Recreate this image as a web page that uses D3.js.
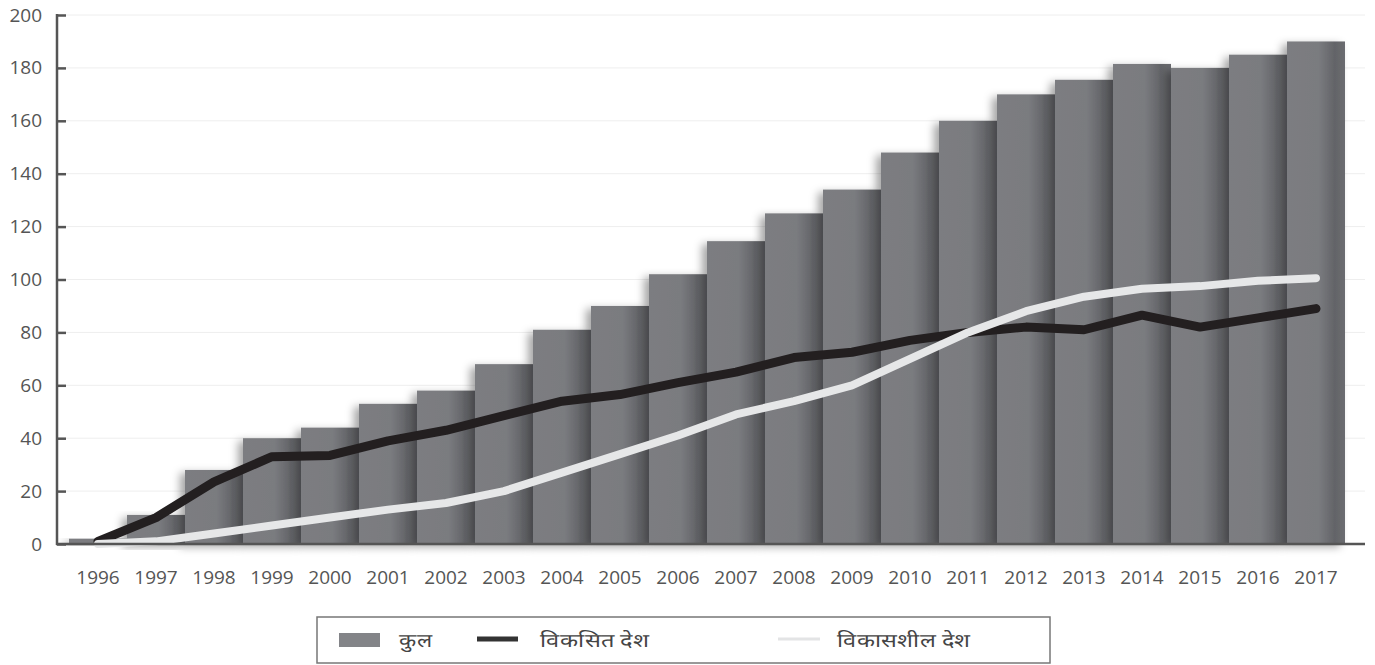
<!DOCTYPE html>
<html>
<head>
<meta charset="utf-8">
<script src="https://cdn.jsdelivr.net/npm/d3@7"></script>
<style>
  body { margin: 0; background: #fff; }
  text { font-family: "Open Sans", sans-serif; }
</style>
</head>
<body>
<svg id="chart"></svg>
<script>
const years = ["1996","1997","1998","1999","2000","2001","2002","2003","2004","2005","2006",
               "2007","2008","2009","2010","2011","2012","2013","2014","2015","2016","2017"];
const total      = [2, 11, 28, 40, 44, 53, 58, 68, 81, 90, 102, 114.5, 125, 134, 148, 160, 170, 175.5, 181.5, 180, 185, 190];
const developed  = [1, 10, 23.5, 33, 33.5, 39, 43, 48.5, 54, 56.5, 61, 65, 70.5, 72.5, 77, 80, 82, 81, 86.5, 82, 85.5, 89];
const developing = [0, 1, 4, 7, 10, 13, 15.5, 20, 27, 34, 41, 49, 54, 60, 70, 80, 88, 93.5, 96.5, 97.5, 99.5, 100.5];
const yTicks = [0, 20, 40, 60, 80, 100, 120, 140, 160, 180, 200];
const legendLabels = ["कुल", "विकसित देश", "विकासशील देश"];

const W = 1375, H = 665;
const svg = d3.select("#chart").attr("width", W).attr("height", H);

const x = d3.scaleBand().domain(years).range([69, 1345]).padding(0);
const y = d3.scaleLinear().domain([0, 200]).range([544, 15]);

const defs = svg.append("defs");
const grad = defs.append("linearGradient").attr("id", "barGrad")
    .attr("x1", "0%").attr("x2", "100%").attr("y1", "0%").attr("y2", "0%");
[["0%", "#7c7d81"], ["55%", "#7a7b7f"], ["82%", "#636468"], ["100%", "#6b6c70"]].forEach(s => {
    grad.append("stop").attr("offset", s[0]).attr("stop-color", s[1]);
});
const shadow = defs.append("filter").attr("id", "shadow")
    .attr("x", "-30%").attr("y", "-10%").attr("width", "150%").attr("height", "130%");
shadow.append("feDropShadow").attr("dx", -5).attr("dy", 3).attr("stdDeviation", 4)
    .attr("flood-color", "#000").attr("flood-opacity", 0.35);

// gridlines
svg.append("g").selectAll("line").data(yTicks.slice(1)).join("line")
    .attr("x1", 57).attr("x2", 1365)
    .attr("y1", d => y(d)).attr("y2", d => y(d))
    .attr("stroke", "#eeeeee").attr("stroke-width", 1);

// bars
svg.append("g").selectAll("rect").data(years).join("rect")
    .attr("x", d => x(d))
    .attr("y", (d, i) => y(total[i]))
    .attr("width", x.bandwidth())
    .attr("height", (d, i) => y(0) - y(total[i]))
    .attr("fill", "url(#barGrad)")
    .attr("filter", "url(#shadow)");

// lines
const line = d3.line()
    .x((d, i) => x(years[i]) + x.bandwidth() / 2)
    .y(d => y(d));

svg.append("path").datum(developed)
    .attr("d", line).attr("fill", "none")
    .attr("stroke", "#231f20").attr("stroke-width", 9)
    .attr("stroke-linejoin", "round").attr("stroke-linecap", "round");

svg.append("path").datum(developing)
    .attr("d", line).attr("fill", "none")
    .attr("stroke", "#e6e7e8").attr("stroke-width", 8)
    .attr("stroke-linejoin", "round").attr("stroke-linecap", "round");

// y axis
const yAxis = svg.append("g").attr("transform", "translate(57,0)")
    .call(d3.axisRight(y).tickValues(yTicks).tickSize(9).tickFormat(d3.format("d")));
yAxis.select(".domain").remove();
yAxis.selectAll(".tick line").attr("stroke", "#555").attr("stroke-width", 2.5);
yAxis.selectAll(".tick text")
    .attr("x", -15).attr("text-anchor", "end")
    .attr("fill", "#555").attr("font-size", 19).attr("font-family", "Open Sans");
svg.append("line").attr("x1", 57).attr("x2", 57).attr("y1", 14).attr("y2", 545)
    .attr("stroke", "#555").attr("stroke-width", 2.5);

// x axis
svg.append("line").attr("x1", 56).attr("x2", 1365).attr("y1", 544).attr("y2", 544)
    .attr("stroke", "#555").attr("stroke-width", 2.5);
const xAxis = svg.append("g").attr("transform", "translate(0,544)")
    .call(d3.axisBottom(x).tickSize(0).tickPadding(27));
xAxis.select(".domain").remove();
xAxis.selectAll(".tick text")
    .attr("fill", "#555").attr("font-size", 19).attr("font-family", "Open Sans");

// legend
const lg = svg.append("g");
lg.append("rect").attr("x", 317).attr("y", 617).attr("width", 733).attr("height", 46)
    .attr("fill", "#fff").attr("stroke", "#777").attr("stroke-width", 1.5);
lg.append("rect").attr("x", 339).attr("y", 633).attr("width", 41).attr("height", 14)
    .attr("fill", "#838488");
lg.append("line").attr("x1", 477).attr("x2", 518).attr("y1", 639).attr("y2", 639)
    .attr("stroke", "#333").attr("stroke-width", 5);
lg.append("line").attr("x1", 778).attr("x2", 820).attr("y1", 639).attr("y2", 639)
    .attr("stroke", "#e3e4e5").attr("stroke-width", 3);
const lx = [399, 540, 837];
const lw = [33, 109, 133];
lg.selectAll("text").data(legendLabels).join("text")
    .attr("x", (d, i) => lx[i]).attr("y", 647)
    .attr("font-size", 19).attr("fill", "#444")
    .attr("textLength", (d, i) => lw[i]).attr("lengthAdjust", "spacingAndGlyphs")
    .text(d => d);
</script>
</body>
</html>
